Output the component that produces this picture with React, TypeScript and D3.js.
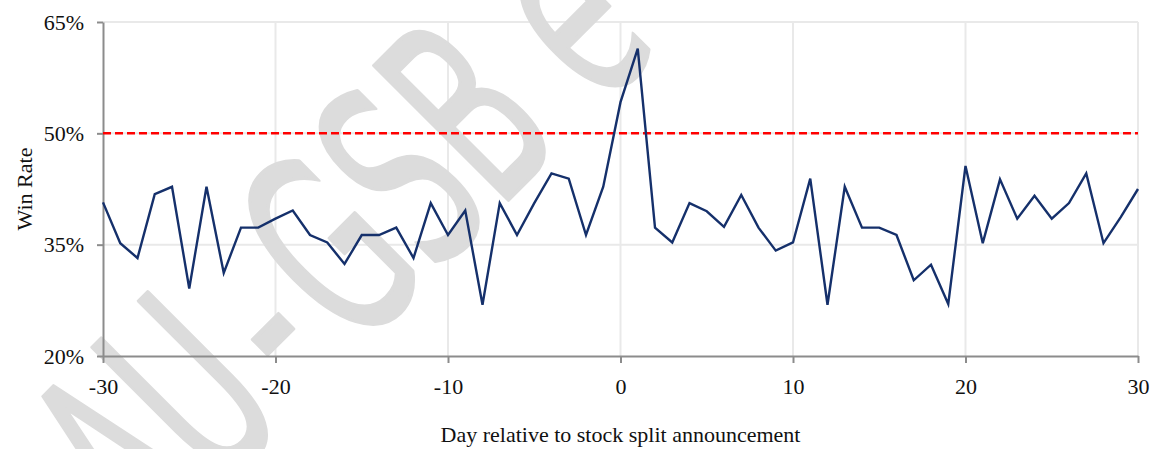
import { useEffect, useRef } from 'react'
import * as d3 from 'd3'

// days relative to the split announcement
const days: number[] = d3.range(-30, 31)

// win rate (%) per day
const winRate: number[] = [
  40.7, 35.2, 33.2, 41.8, 42.8, 29.1, 42.8, 31.2, 37.3, 37.3,
  38.5, 39.6, 36.3, 35.3, 32.4, 36.3, 36.3, 37.3, 33.2, 40.6,
  36.3, 39.6, 26.9, 40.6, 36.3, 40.6, 44.6, 43.9, 36.3, 42.8,
  54.2, 61.4, 37.3, 35.3, 40.6, 39.5, 37.4, 41.7, 37.3, 34.2,
  35.3, 43.9, 26.9, 42.8, 37.3, 37.3, 36.3, 30.2, 32.3, 27.0,
  45.6, 35.2, 43.8, 38.5, 41.6, 38.5, 40.6, 44.6, 35.2, 38.7,
  42.5,
]

const xTicks = [-30, -20, -10, 0, 10, 20, 30]
const yTicks = [20, 35, 50, 65]
const threshold = 50

const width = 1158
const height = 449
const margin = { top: 22, right: 20, bottom: 93, left: 103 }

export default function App() {
  const svgRef = useRef<SVGSVGElement>(null)

  useEffect(() => {
    if (!svgRef.current) return
    const svg = d3.select(svgRef.current)
    svg.selectAll('*').remove()

    const x = d3.scaleLinear().domain([-30, 30]).range([margin.left, width - margin.right])
    const y = d3.scaleLinear().domain([20, 65]).range([height - margin.bottom, margin.top])
    const font = '"Liberation Serif", "Times New Roman", serif'

    // grid
    const grid = svg.append('g')
    grid
      .selectAll('line.v')
      .data(xTicks.slice(1))
      .join('line')
      .attr('x1', (d) => x(d))
      .attr('x2', (d) => x(d))
      .attr('y1', y(65))
      .attr('y2', y(20))
      .attr('stroke', '#e9e9e9')
      .attr('stroke-width', 2)
    grid
      .selectAll('line.h')
      .data(yTicks.slice(1))
      .join('line')
      .attr('x1', x(-30))
      .attr('x2', x(30))
      .attr('y1', (d) => y(d))
      .attr('y2', (d) => y(d))
      .attr('stroke', '#e9e9e9')
      .attr('stroke-width', 2)

    // watermark
    const wm = svg
      .append('text')
      .attr('transform', 'translate(148,560) rotate(-45) scale(0.55,1)')
      .attr('font-family', '"DejaVu Sans", sans-serif')
      .attr('font-size', 260)
      .attr('fill', '#dcdcdc')
      .attr('stroke', '#dcdcdc')
      .attr('stroke-width', 4)
      .attr('stroke-linejoin', 'round')
    wm.append('tspan').text('AU')
    wm.append('tspan').attr('dx', 36).text('-')
    wm.append('tspan').attr('dx', 35).text('GSB e')

    // axes
    const styleAxis = (g: d3.Selection<SVGGElement, unknown, null, undefined>) => {
      g.select('.domain').attr('stroke', '#8c8c8c').attr('stroke-width', 2)
      g.selectAll('.tick line').attr('stroke', '#8c8c8c').attr('stroke-width', 2)
      g.selectAll('.tick text')
        .attr('font-family', font)
        .attr('font-size', 22)
        .attr('fill', '#111')
    }

    svg
      .append('g')
      .attr('transform', `translate(0,${y(20)})`)
      .call(
        d3
          .axisBottom(x)
          .tickValues(xTicks)
          .tickSize(7)
          .tickSizeOuter(0)
          .tickPadding(15)
          .tickFormat((d) => String(d)),
      )
      .call(styleAxis)

    svg
      .append('g')
      .attr('transform', `translate(${x(-30)},0)`)
      .call(
        d3
          .axisLeft(y)
          .tickValues(yTicks)
          .tickSize(6)
          .tickSizeOuter(0)
          .tickPadding(13)
          .tickFormat((d) => `${d}%`),
      )
      .call(styleAxis)

    // 50% reference line
    svg
      .append('line')
      .attr('x1', x(-30))
      .attr('x2', x(30))
      .attr('y1', y(threshold))
      .attr('y2', y(threshold))
      .attr('stroke', '#ff0000')
      .attr('stroke-width', 2.5)
      .attr('stroke-dasharray', '8,4')

    // win rate line
    const line = d3
      .line<number>()
      .x((_, i) => x(days[i]))
      .y((d) => y(d))
    svg
      .append('path')
      .datum(winRate)
      .attr('fill', 'none')
      .attr('stroke', '#15306b')
      .attr('stroke-width', 2.4)
      .attr('stroke-linejoin', 'miter')
      .attr('d', line)

    // axis titles
    svg
      .append('text')
      .attr('x', (x(-30) + x(30)) / 2)
      .attr('y', 442)
      .attr('text-anchor', 'middle')
      .attr('font-family', font)
      .attr('font-size', 22)
      .attr('fill', '#111')
      .text('Day relative to stock split announcement')

    svg
      .append('text')
      .attr('transform', `translate(32,${(y(20) + y(65)) / 2}) rotate(-90)`)
      .attr('text-anchor', 'middle')
      .attr('font-family', font)
      .attr('font-size', 22)
      .attr('fill', '#111')
      .text('Win Rate')
  }, [])

  return (
    <svg
      ref={svgRef}
      width={width}
      height={height}
      style={{ position: 'absolute', left: 0, top: 0, display: 'block', background: '#fff' }}
    />
  )
}
